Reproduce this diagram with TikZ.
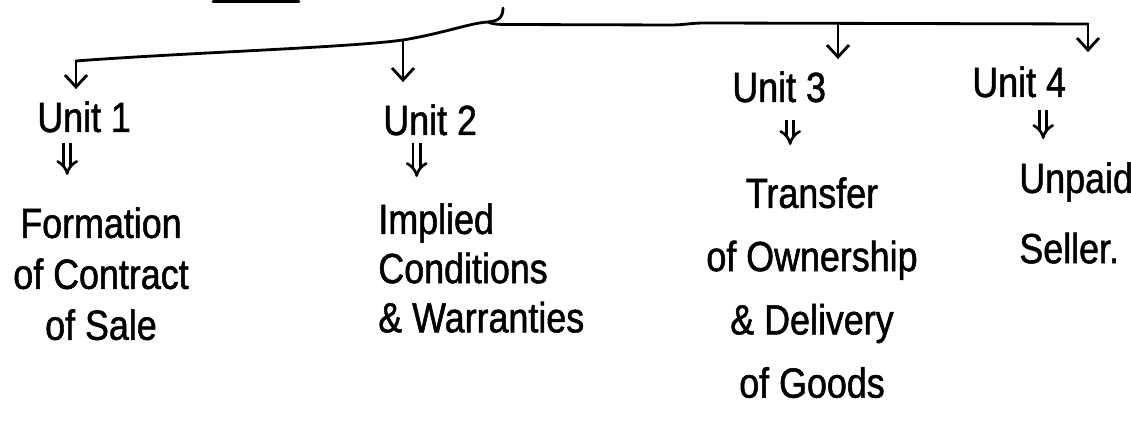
\documentclass[tikz,border=0pt]{standalone}
\usepackage{fontspec}
\setmainfont[FakeStretch=0.85,FakeBold=1.2]{Liberation Sans}
\usetikzlibrary{arrows.meta}
\tikzset{
    ink/.style={line width=1.6pt,line cap=round,line join=round},
    unit/.style={font=\fontsize{24}{28}\selectfont,inner sep=0pt,anchor=base west},
    desc/.style={font=\fontsize{24}{#1}\selectfont,inner sep=0pt},
    arr/.style={ink,-{Straight Barb[length=2.4mm,width=4.4mm]}},
    dbl/.style={line width=1.5pt,double distance=2.6pt,-{Implies[scale length=1.6,scale width=1.6]}}
}

\begin{document}
\begin{tikzpicture}
    \useasboundingbox (0,0) rectangle (22.62,-8.76);

    % points on the bar
    \coordinate (top) at (10.06,-0.16);
    \coordinate (tip) at (9.76,-0.44);
    \coordinate (b1)  at (1.52,-1.22);
    \coordinate (b2)  at (8.06,-0.80);
    \coordinate (b3)  at (16.76,-0.47);
    \coordinate (b4)  at (21.76,-0.48);

    \node[unit] (u1) at (0.74,-2.64)  {Unit 1};
    \node[unit] (u2) at (7.66,-2.70)  {Unit 2};
    \node[unit] (u3) at (14.64,-2.04) {Unit 3};
    \node[unit] (u4) at (19.44,-1.94) {Unit 4};

    \node[desc=29pt,align=center,anchor=north]    (d1) at (2.02,-4.14)  {Formation\\of Contract\\of Sale};
    \node[desc=28pt,align=left,anchor=north west] (d2) at (7.56,-4.06)  {Implied\\Conditions\\\& Warranties};
    \node[desc=36pt,align=center,anchor=north]    (d3) at (16.24,-3.54) {Transfer\\of Ownership\\\& Delivery\\of Goods};
    \node[desc=40pt,align=left,anchor=north west] (d4) at (20.38,-3.24) {Unpaid\\Seller.};

    % heading underline
    \draw[ink] (4.26,-0.03) -- (5.98,-0.03);

    % brace and bar
    \draw[ink] (top) .. controls (10.06,-0.36) and (9.96,-0.42) .. (tip)
        .. controls (9.4,-0.46) and (8.9,-0.66) .. (b2)
        .. controls (7.0,-0.95) and (3.6,-1.06) .. (b1);
    \draw[ink] (tip) .. controls (9.84,-0.48) and (9.94,-0.49) .. (10.14,-0.49) -- (13.4,-0.5)
        .. controls (13.7,-0.5) and (13.8,-0.46) .. (14.1,-0.46) -- (b4);

    \draw[arr,shorten >=0.24cm] (b1) -- (b1 |- u1.north);
    \draw[arr,shorten >=0.44cm] (b2) -- (b2 |- u2.north);
    \draw[arr,shorten >=0.24cm] (b3) -- (b3 |- u3.north);
    \draw[arr,shorten >=0.28cm] (b4) -- (b4 |- u4.north);

    \draw[dbl,shorten <=0.2cm,shorten >=0.64cm] ([xshift=-0.34cm]u1.south) -- ([xshift=-0.34cm]u1.south |- d1.north);
    \draw[dbl,shorten <=0.14cm,shorten >=0.52cm] ([xshift=-0.27cm]u2.south) -- ([xshift=-0.27cm]u2.south |- d2.north);
    \draw[dbl,shorten <=0.34cm,shorten >=0.64cm] ([xshift=0.22cm]u3.south)  -- ([xshift=0.22cm]u3.south |- d3.north);
    \draw[dbl,shorten <=0.24cm,shorten >=0.46cm] ([xshift=0.48cm]u4.south)  -- ([xshift=0.48cm]u4.south |- d4.north);
\end{tikzpicture}
\end{document}
